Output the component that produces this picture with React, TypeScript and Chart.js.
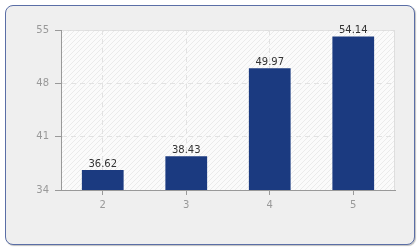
import React, { useEffect, useRef } from "react";
import { Chart, registerables } from "chart.js";

Chart.register(...registerables);

const categories = ["2", "3", "4", "5"];
const values = [36.62, 38.43, 49.97, 54.14];
const yTicks = [34, 41, 48, 55];

const plotBg = {
  id: "plotBg",
  beforeDraw(chart: any) {
    const { ctx, chartArea: a } = chart;
    ctx.save();
    ctx.fillStyle = "#fbfbfb";
    ctx.fillRect(a.left, a.top, a.right - a.left, a.bottom - a.top);
    const p = document.createElement("canvas");
    p.width = 5;
    p.height = 5;
    const pc = p.getContext("2d")!;
    pc.strokeStyle = "#ebebeb";
    pc.lineWidth = 1;
    pc.beginPath();
    pc.moveTo(0, 5);
    pc.lineTo(5, 0);
    pc.moveTo(-1, 1);
    pc.lineTo(1, -1);
    pc.moveTo(4, 6);
    pc.lineTo(6, 4);
    pc.stroke();
    ctx.fillStyle = ctx.createPattern(p, "repeat");
    ctx.fillRect(a.left, a.top, a.right - a.left, a.bottom - a.top);
    ctx.strokeStyle = "#dedede";
    ctx.lineWidth = 1;
    ctx.strokeRect(a.left + 0.5, a.top + 0.5, a.right - a.left - 1, a.bottom - a.top);
    ctx.restore();
  },
};

const valueLabels = {
  id: "valueLabels",
  afterDatasetsDraw(chart: any) {
    const { ctx } = chart;
    const meta = chart.getDatasetMeta(0);
    ctx.save();
    ctx.font = "10px 'DejaVu Sans'";
    ctx.fillStyle = "#333";
    ctx.textAlign = "center";
    ctx.textBaseline = "bottom";
    meta.data.forEach((bar: any, i: number) => {
      ctx.fillText(values[i].toFixed(2), bar.x, bar.y - 1);
    });
    ctx.restore();
  },
};

export default function App() {
  const ref = useRef<HTMLCanvasElement>(null);
  useEffect(() => {
    const chart = new Chart(ref.current!, {
      type: "bar",
      data: {
        labels: categories,
        datasets: [
          {
            data: values,
            backgroundColor: "#1b3a80",
            barPercentage: 0.5,
            categoryPercentage: 1,
          },
        ],
      },
      plugins: [plotBg, valueLabels],
      options: {
        animation: false,
        responsive: false,
        layout: { padding: { top: 30, right: 25, left: 0, bottom: 30 } },
        plugins: { legend: { display: false }, tooltip: { enabled: false } },
        scales: {
          x: {
            afterFit: (s: any) => {
              s.height = 30;
            },
            grid: {
              offset: false,
              color: "#e2e2e2",
              tickColor: "#999",
              tickBorderDash: [],
              tickLength: 5,
            },
            border: { color: "#999", dash: [5, 4] },
            ticks: { color: "#999", font: { family: "DejaVu Sans", size: 10 }, padding: 4 },
          },
          y: {
            min: 34,
            max: 55,
            afterFit: (s: any) => {
              s.width = 61;
            },
            afterBuildTicks: (s: any) => {
              s.ticks = yTicks.map((v) => ({ value: v }));
            },
            grid: {
              color: "#e2e2e2",
              tickColor: "#999",
              tickBorderDash: [],
              tickLength: 6,
            },
            border: { color: "#999", dash: [5, 4] },
            ticks: { color: "#999", font: { family: "DejaVu Sans", size: 10 }, padding: 6 },
          },
        },
      },
    });
    return () => chart.destroy();
  }, []);
  return (
    <div style={{ position: "fixed", left: 0, top: 0, width: 420, height: 250, background: "#fff" }}>
      <div
        style={{
          position: "absolute",
          left: 5,
          top: 5,
          width: 408,
          height: 238,
          border: "1px solid #5a6ea6",
          borderRadius: 8,
          background: "#efefef",
          boxShadow: "1px 1px 1px rgba(0,0,0,0.25)",
        }}
      />
      <canvas ref={ref} width={420} height={250} style={{ position: "absolute", left: 0, top: 0 }} />
    </div>
  );
}
